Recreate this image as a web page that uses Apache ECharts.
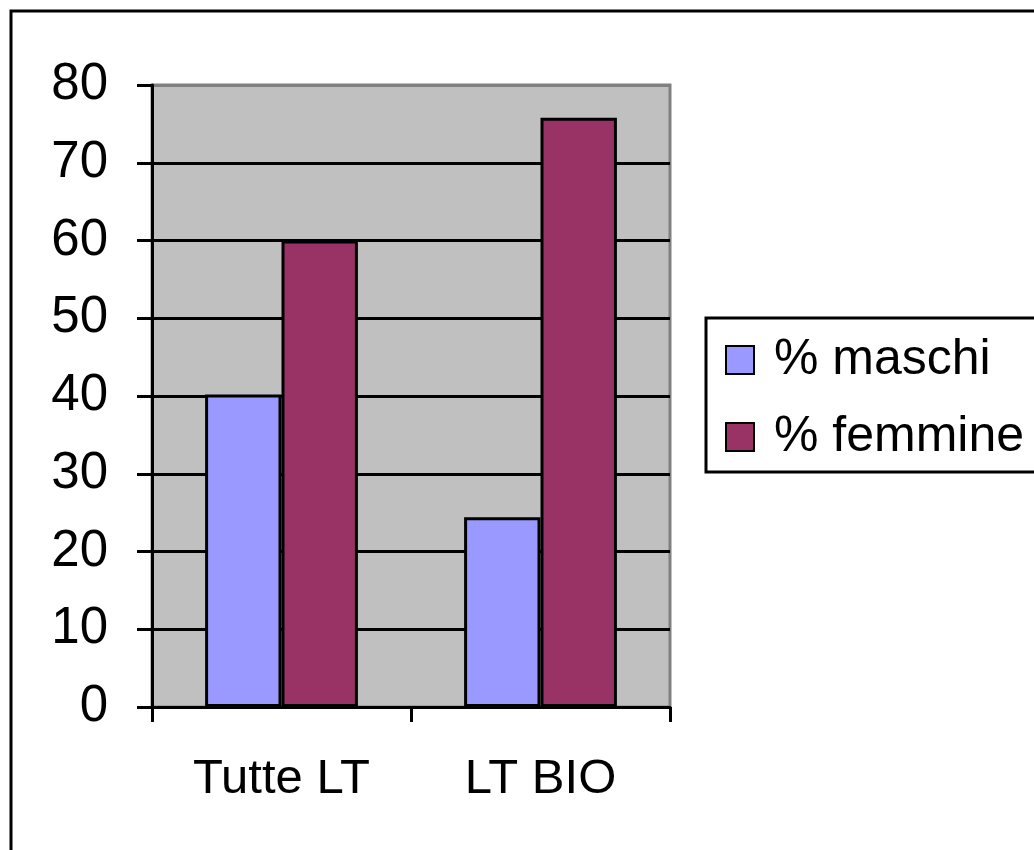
<!DOCTYPE html>
<html>
<head>
<meta charset="utf-8">
<script src="https://cdn.jsdelivr.net/npm/echarts@6/dist/echarts.min.js"></script>
<style>
  html, body { margin: 0; padding: 0; background: #fff; }
  #chart { width: 1034px; height: 850px; }
</style>
</head>
<body>
<div id="chart"></div>
<script>
// dati
const categories = ['Tutte LT', 'LT BIO'];
const maschi = [40.2, 24.4];
const femmine = [60, 75.8];
const seriesNames = ['% maschi', '% femmine'];

const FONT = '"Liberation Sans", Arial, sans-serif';

const chart = echarts.init(document.getElementById('chart'));

// le linee di griglia sono nere, tranne quella in alto (bordo grigio)
const splitColors = ['#000', '#000', '#000', '#000', '#000', '#000', '#000', '#000', '#808080'];

const option = {
    backgroundColor: '#fff',
    animation: false,
    grid: {
        left: 152, right: 364, top: 85, bottom: 143,
        show: true,
        backgroundColor: '#C0C0C0',
        borderColor: '#808080',
        borderWidth: 3
    },
    legend: {
        orient: 'vertical',
        left: 725,
        top: 335,
        padding: 0,
        itemWidth: 28,
        itemHeight: 28,
        itemGap: 27,
        icon: 'rect',
        data: seriesNames,
        textStyle: {
            fontFamily: FONT,
            fontSize: 50,
            color: '#000',
            lineHeight: 50,
            padding: [0, 0, 0, 15]
        }
    },
    xAxis: {
        type: 'category',
        data: categories,
        axisLine: { lineStyle: { color: '#000', width: 3 } },
        axisTick: { show: true, length: 15, lineStyle: { color: '#000', width: 3 } },
        axisLabel: { fontFamily: FONT, fontSize: 49, color: '#000', margin: 48 }
    },
    yAxis: {
        type: 'value',
        min: 0, max: 80, interval: 10,
        axisLine: { show: true, lineStyle: { color: '#000', width: 3 } },
        axisTick: { show: true, length: 15, lineStyle: { color: '#000', width: 3 } },
        axisLabel: { fontFamily: FONT, fontSize: 51, color: '#000', margin: 44 },
        splitLine: { show: true, lineStyle: { color: splitColors, width: 3 } }
    },
    series: [
        {
            name: seriesNames[0],
            type: 'bar',
            data: maschi,
            barGap: '0%',
            barCategoryGap: '41%',
            itemStyle: { color: '#9999FF', borderColor: '#000', borderWidth: 3 }
        },
        {
            name: seriesNames[1],
            type: 'bar',
            data: femmine,
            itemStyle: { color: '#993366', borderColor: '#000', borderWidth: 3 }
        }
    ],
    graphic: [
        {
            type: 'rect',
            shape: { x: 11, y: 11, width: 1100, height: 1000 },
            style: { fill: 'none', stroke: '#000', lineWidth: 3 },
            silent: true
        },
        {
            type: 'rect',
            shape: { x: 706, y: 318, width: 400, height: 154 },
            style: { fill: 'none', stroke: '#000', lineWidth: 3 },
            silent: true
        }
    ]
};

option && chart.setOption(option);
</script>
</body>
</html>
